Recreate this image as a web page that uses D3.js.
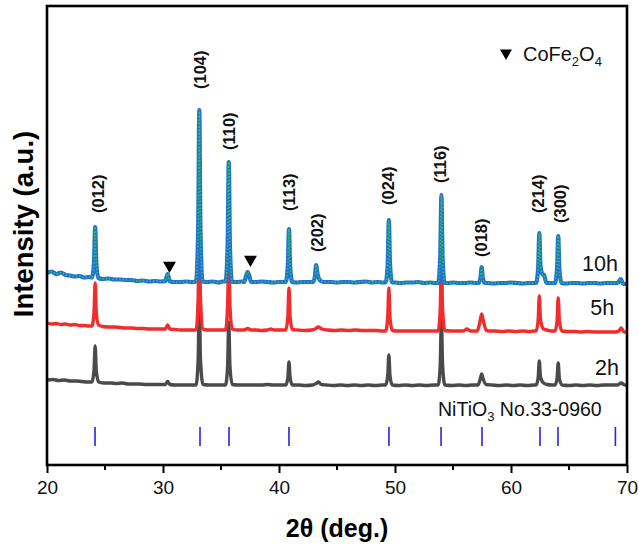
<!DOCTYPE html>
<html>
<head>
<meta charset="utf-8">
<script src="https://cdn.jsdelivr.net/npm/d3@7"></script>
<style>
  body { margin: 0; background: #fff; }
  svg { display: block; font-family: "Liberation Sans", Arial, sans-serif; }
</style>
</head>
<body>
<div id="chart"></div>
<script>
// 2theta (deg.) vs stacked intensity (a.u.)
const pattern2h = [
  [20, 170], [20.5, 171], [21, 169], [21.5, 170], [22, 168], [22.5, 168], [23, 167], [23.5, 166],
  [23.87, 166], [24.05, 188], [24.15, 238], [24.25, 188], [24.45, 166],
  [24.9, 164], [25.5, 164], [26, 163], [26.5, 164], [27, 162], [27.5, 162], [28, 162], [28.5, 161],
  [29, 161], [29.5, 161], [30, 161], [30.2, 161], [30.4, 167], [30.6, 161], [31, 160], [31.5, 160],
  [32, 160], [32.5, 160],
  [32.85, 160], [33.03, 211], [33.13, 330], [33.23, 211], [33.45, 161],
  [34, 160], [34.6, 160], [35.1, 160],
  [35.39, 160], [35.57, 198], [35.67, 286], [35.77, 198], [35.97, 161],
  [36.5, 160], [37, 160], [37.5, 160], [38, 160], [38.5, 160], [39, 161], [39.5, 160], [40.2, 160],
  [40.58, 160], [40.76, 174], [40.86, 206], [40.96, 174], [41.16, 160],
  [41.7, 160], [42.3, 159], [42.9, 160], [43.2, 163], [43.4, 166], [43.65, 161], [44.1, 160],
  [44.7, 159], [45.3, 160], [45.9, 159], [46.5, 160], [47.1, 159], [47.7, 160], [48.3, 159], [48.9, 160],
  [49.19, 160], [49.37, 178], [49.47, 220], [49.57, 178], [49.77, 160],
  [50.3, 159], [50.9, 160], [51.5, 159], [52.1, 160], [52.7, 159], [53.3, 160], [53.6, 160],
  [53.72, 160], [53.9, 200], [54.0, 294], [54.1, 200], [54.3, 160],
  [54.9, 159], [55.5, 160], [56.1, 159], [56.7, 160], [57.1, 160],
  [57.15, 160], [57.33, 170], [57.47, 182], [57.6, 172], [57.85, 161],
  [58.4, 160], [59, 159], [59.6, 160], [60.2, 159], [60.8, 160], [61.4, 159], [62, 160],
  [62.16, 160], [62.34, 174], [62.44, 208], [62.54, 176], [62.8, 164], [63.1, 161], [63.5, 160],
  [63.79, 160], [63.97, 173], [64.07, 204], [64.17, 173], [64.4, 160],
  [65, 159], [65.6, 160], [66.2, 159], [66.8, 160], [67.4, 159], [68, 160], [68.6, 160], [69.2, 160],
  [69.5, 164], [69.8, 160], [70, 159]
];

const pattern5h = [
  [20, 284], [20.4, 282], [20.8, 283], [21.2, 281], [21.6, 282], [22, 280], [22.4, 281], [22.8, 279],
  [23.2, 279], [23.6, 278],
  [23.87, 278], [24.05, 304], [24.15, 364], [24.25, 304], [24.45, 280], [24.8, 277],
  [25.3, 276], [25.8, 276], [26.3, 275], [26.8, 274], [27.3, 274], [27.8, 273], [28.3, 273], [28.8, 272],
  [29.3, 272], [29.8, 272], [30.2, 272], [30.4, 280], [30.6, 272], [31, 271], [31.5, 270], [32, 270], [32.5, 270],
  [32.85, 270], [33.03, 333], [33.13, 480], [33.23, 333], [33.45, 272],
  [33.8, 270], [34.3, 270], [34.8, 270], [35.1, 270],
  [35.39, 270], [35.57, 318], [35.67, 430], [35.77, 318], [35.97, 272],
  [36.4, 270], [37, 270], [37.3, 273], [37.6, 270], [38, 270], [38.5, 269], [39, 270], [39.3, 272],
  [39.6, 270], [40.2, 270],
  [40.58, 270], [40.76, 295], [40.86, 354], [40.96, 295], [41.16, 271],
  [41.6, 270], [42.2, 269], [42.8, 270], [43.1, 272], [43.4, 276], [43.7, 272], [44.2, 270], [44.8, 269],
  [45.4, 270], [46, 269], [46.6, 270], [47.2, 269], [47.8, 269], [48.4, 269], [48.9, 268],
  [49.19, 268], [49.37, 294], [49.47, 354], [49.57, 294], [49.77, 269],
  [50.2, 268], [50.8, 268], [51.4, 268], [52, 268], [52.6, 268], [53.2, 268], [53.6, 268],
  [53.72, 268], [53.9, 312], [54.0, 414], [54.1, 312], [54.3, 269],
  [54.8, 268], [55.4, 268], [55.9, 268], [56.2, 272], [56.5, 268], [57.0, 268],
  [57.1, 268], [57.3, 284], [57.47, 302], [57.6, 290], [57.85, 270], [58.1, 268],
  [58.6, 268], [59.2, 267], [59.8, 268], [60.4, 267], [61, 268], [61.6, 267], [62.0, 268],
  [62.16, 268], [62.34, 289], [62.44, 338], [62.54, 292], [62.8, 272], [63.1, 270], [63.5, 268],
  [63.79, 268], [63.97, 288], [64.07, 334], [64.17, 288], [64.4, 268],
  [64.9, 267], [65.5, 267], [66, 266], [66.6, 267], [67.2, 266], [67.8, 266], [68.4, 266], [69, 266],
  [69.3, 268], [69.5, 274], [69.75, 266], [70, 265]
];

const pattern10h = [
  [20, 384], [20.4, 387], [20.8, 382], [21.2, 385], [21.6, 380], [22, 379], [22.4, 377], [22.8, 378],
  [23.2, 375], [23.6, 376],
  [23.87, 375], [24.05, 405], [24.15, 476], [24.25, 405], [24.43, 374],
  [24.8, 372], [25.3, 373], [25.8, 371], [26.3, 371], [26.8, 370], [27.3, 370], [27.8, 368], [28.3, 369],
  [28.8, 367], [29.3, 368], [29.8, 367], [30.2, 368], [30.4, 382], [30.6, 367], [31, 366], [31.5, 366],
  [32, 367], [32.5, 366],
  [32.85, 367], [33.03, 470], [33.13, 710], [33.23, 470], [33.41, 367],
  [33.8, 366], [34.3, 367], [34.8, 365], [35.1, 367],
  [35.39, 367], [35.57, 438], [35.67, 606], [35.77, 438], [35.95, 366],
  [36.4, 366], [36.8, 367], [37.0, 366], [37.18, 380], [37.3, 386], [37.42, 380], [37.6, 366],
  [38, 366], [38.5, 367], [39, 366], [39.5, 365], [40, 366], [40.3, 366],
  [40.58, 366], [40.76, 398], [40.86, 472], [40.96, 398], [41.14, 366],
  [41.5, 365], [42, 366], [42.5, 366],
  [42.95, 366], [43.1, 378], [43.2, 400], [43.32, 382], [43.6, 368], [43.9, 366],
  [44.5, 366], [45, 365], [45.5, 366], [46, 366], [46.5, 365], [47, 366], [47.5, 367], [48, 365],
  [48.5, 366], [49, 365],
  [49.19, 365], [49.37, 402], [49.47, 490], [49.57, 402], [49.75, 365],
  [50, 365], [50.5, 364], [51, 365], [51.5, 365], [52, 366], [52.5, 364], [53, 365], [53.5, 364],
  [53.72, 364], [53.9, 417], [54.0, 540], [54.1, 417], [54.28, 364],
  [54.6, 364], [55, 365], [55.5, 364], [56, 364], [56.5, 365], [57, 364],
  [57.19, 364], [57.37, 374], [57.47, 396], [57.57, 374], [57.75, 364],
  [58, 364], [58.5, 363], [59, 364], [59.5, 364], [60, 365], [60.5, 364], [61, 363], [61.5, 364], [62, 364],
  [62.16, 364], [62.34, 394], [62.44, 464], [62.54, 400], [62.7, 382], [62.85, 380], [63.05, 364],
  [63.4, 364],
  [63.79, 364], [63.97, 392], [64.07, 458], [64.17, 392], [64.35, 364],
  [64.7, 363], [65.2, 364], [65.7, 364], [66.2, 363], [66.7, 364], [67.2, 364], [67.7, 363], [68.2, 364],
  [68.7, 364], [69.2, 364], [69.45, 372], [69.7, 362], [70, 362]
];

// NiTiO3 reference card No.33-0960 line positions
const refPositions = [24.14, 33.19, 35.69, 40.86, 49.48, 53.97, 57.5, 62.5, 64.05, 69.0];

// hkl labels: text, 2theta of label centre, intensity where label starts
const hklLabels = ["(012)", "(104)", "(110)", "(113)", "(202)", "(024)", "(116)", "(018)", "(214)", "(300)"];
const hklTheta = [24.5, 33.23, 35.73, 40.91, 43.36, 49.48, 53.97, 57.5, 62.37, 64.31];
const hklLevel = [504, 752, 630, 508, 426, 520, 564, 416, 504, 484];

// CoFe2O4 impurity markers
const spinelTheta = [30.56, 37.54];
const spinelLevel = [399, 411];

const seriesNames = ["2h", "5h", "10h"];
const seriesLabelTheta = [69.3, 68.9, 69.22];
const seriesLabelLevel = [180, 300, 388];

const xTicks = [20, 30, 40, 50, 60, 70];
const xMinorTicks = [25, 35, 45, 55, 65];

const width = 639;
const height = 544;
const margin = { top: 6, right: 12, bottom: 79, left: 47 };

const svg = d3.select("#chart").append("svg").attr("width", width).attr("height", height);

const x = d3.scaleLinear().domain([20, 70]).range([margin.left, width - margin.right]);
const y = d3.scaleLinear().domain([0, 918]).range([height - margin.bottom, margin.top]);

const line = d3
  .line()
  .x((d) => x(d[0]))
  .y((d) => y(d[1]))
  .curve(d3.curveMonotoneX);

const plot = svg.append("g");

// Patterns, 2h at the back and 10h on top
plot
  .append("path")
  .datum(pattern2h)
  .attr("d", line)
  .attr("fill", "none")
  .attr("stroke", "#4a4a4a")
  .attr("stroke-width", 3.4)
  .attr("stroke-linejoin", "round");

plot
  .append("path")
  .datum(pattern5h)
  .attr("d", line)
  .attr("fill", "none")
  .attr("stroke", "#f22b2b")
  .attr("stroke-width", 3.4)
  .attr("stroke-linejoin", "round");

plot
  .append("path")
  .datum(pattern10h)
  .attr("d", line)
  .attr("fill", "none")
  .attr("stroke", "#1f6fdc")
  .attr("stroke-width", 4.2)
  .attr("stroke-linejoin", "round");

// green scatter on top of the 10h trace
plot
  .append("path")
  .datum(pattern10h)
  .attr("d", line)
  .attr("fill", "none")
  .attr("stroke", "#2fd12f")
  .attr("stroke-width", 1.6)
  .attr("stroke-dasharray", "1.4,2")
  .attr("stroke-linejoin", "round");

// Reference sticks
plot
  .selectAll(".ref")
  .data(refPositions)
  .join("line")
  .attr("class", "ref")
  .attr("x1", (d) => x(d))
  .attr("x2", (d) => x(d))
  .attr("y1", y(76))
  .attr("y2", y(38))
  .attr("stroke", "#2424f0")
  .attr("stroke-width", 1.6);

plot
  .append("text")
  .attr("x", x(53.71))
  .attr("y", y(98))
  .attr("font-size", 19.5)
  .attr("fill", "#111")
  .html('NiTiO<tspan font-size="13" dy="5">3</tspan><tspan dy="-5"> No.33-0960</tspan>');

// hkl labels
plot
  .selectAll(".hkl")
  .data(hklLabels)
  .join("text")
  .attr("class", "hkl")
  .attr("transform", (d, i) => `translate(${x(hklTheta[i])},${y(hklLevel[i])}) rotate(-90)`)
  .attr("dy", "0.32em")
  .attr("font-size", 16.5)
  .attr("font-weight", "bold")
  .attr("fill", "#111")
  .text((d) => d);

// CoFe2O4 markers
const tri = d3.symbol().type(d3.symbolTriangle);
plot
  .selectAll(".spinel")
  .data(spinelTheta)
  .join("path")
  .attr("class", "spinel")
  .attr("d", tri.size(72))
  .attr("transform", (d, i) => `translate(${x(d)},${y(spinelLevel[i])}) rotate(180)`)
  .attr("fill", "#000");

plot
  .append("path")
  .attr("d", tri.size(62))
  .attr("transform", `translate(${x(59.57)},${y(824)}) rotate(180)`)
  .attr("fill", "#000");

plot
  .append("text")
  .attr("x", x(61.03))
  .attr("y", y(808))
  .attr("font-size", 20)
  .attr("fill", "#111")
  .html('CoFe<tspan font-size="13" dy="5">2</tspan><tspan dy="-5">O</tspan><tspan font-size="13" dy="5">4</tspan>');

// Series labels
plot
  .selectAll(".series-label")
  .data(seriesNames)
  .join("text")
  .attr("class", "series-label")
  .attr("x", (d, i) => x(seriesLabelTheta[i]))
  .attr("y", (d, i) => y(seriesLabelLevel[i]))
  .attr("text-anchor", "end")
  .attr("font-size", 21.5)
  .attr("fill", "#111")
  .text((d) => d);

// Axes
const xAxis = svg
  .append("g")
  .attr("transform", `translate(0,${height - margin.bottom})`)
  .call(d3.axisBottom(x).tickValues(xTicks).tickSize(8).tickPadding(8).tickFormat(d3.format("d")));
xAxis.select(".domain").remove();
xAxis.selectAll(".tick line").attr("stroke", "#000").attr("stroke-width", 2);
xAxis.selectAll(".tick text").attr("font-size", 19).attr("fill", "#111").attr("font-family", null);
xAxis.attr("font-family", null);

svg
  .append("g")
  .selectAll("line")
  .data(xMinorTicks)
  .join("line")
  .attr("x1", (d) => x(d))
  .attr("x2", (d) => x(d))
  .attr("y1", height - margin.bottom)
  .attr("y2", height - margin.bottom + 5)
  .attr("stroke", "#000")
  .attr("stroke-width", 2);

// Frame
svg
  .append("rect")
  .attr("x", margin.left)
  .attr("y", margin.top)
  .attr("width", width - margin.left - margin.right)
  .attr("height", height - margin.top - margin.bottom)
  .attr("fill", "none")
  .attr("stroke", "#000")
  .attr("stroke-width", 2.6);

// Axis titles
svg
  .append("text")
  .attr("x", 337)
  .attr("y", 537)
  .attr("text-anchor", "middle")
  .attr("font-size", 25)
  .attr("font-weight", "bold")
  .text("2θ (deg.)");

svg
  .append("text")
  .attr("transform", "translate(33,224) rotate(-90)")
  .attr("text-anchor", "middle")
  .attr("font-size", 27.5)
  .attr("font-weight", "bold")
  .text("Intensity (a.u.)");
</script>
</body>
</html>
